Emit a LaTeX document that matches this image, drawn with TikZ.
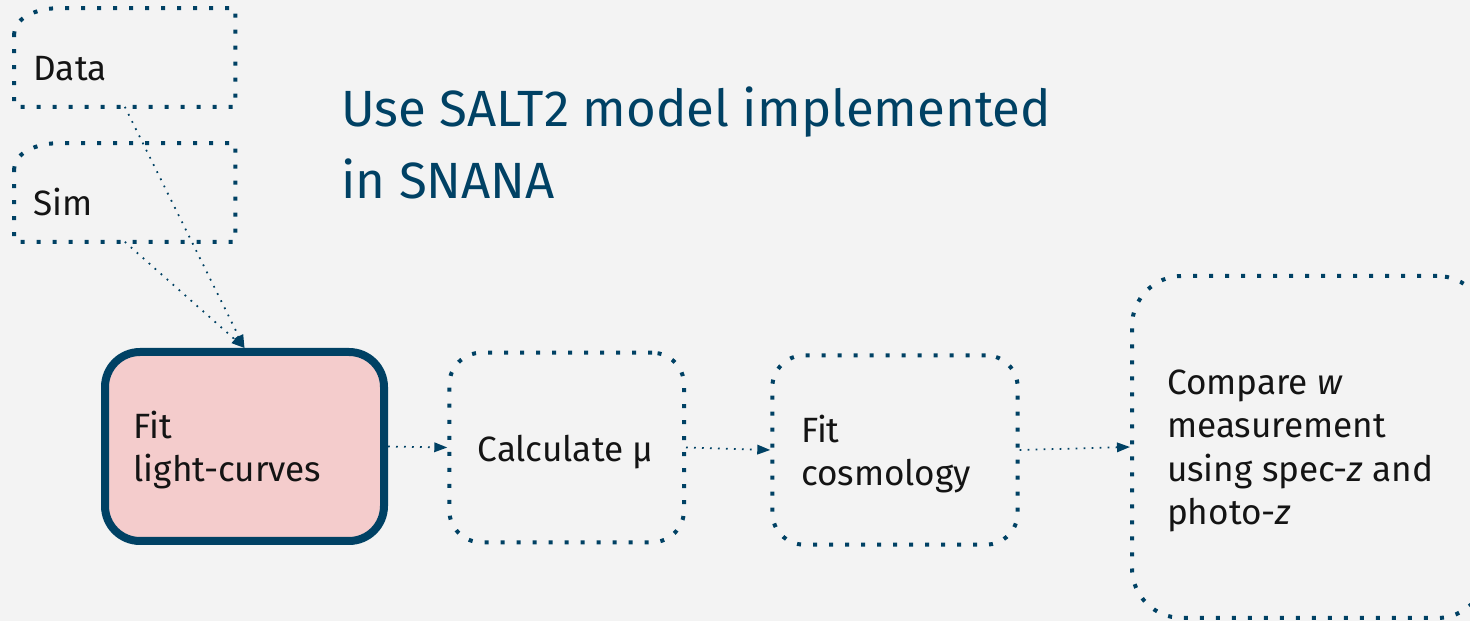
\documentclass[tikz,border=0pt]{standalone}
\usepackage{fontspec}
\setmainfont{Fira Sans}
\usetikzlibrary{arrows.meta,calc}
\definecolor{deepblue}{RGB}{0,65,100}
\definecolor{boxpink}{RGB}{244,204,204}
\definecolor{slidebg}{RGB}{243,243,243}

\begin{document}
\begin{tikzpicture}[
  srcbox/.style={minimum width=4.41cm, minimum height=1.96cm, inner sep=0pt},
  dotline/.style={draw=deepblue, line width=0.08cm, dash pattern=on 0.08cm off 0.24cm},
  dotbox/.style={dotline, rounded corners=0.64cm, inner sep=0pt},
  fitbox/.style={draw=deepblue, fill=boxpink, line width=0.16cm, rounded corners=0.7cm, inner sep=0pt},
  link/.style={draw=deepblue, line width=0.035cm, dash pattern=on 0.035cm off 0.125cm,
    -{Triangle[length=0.26cm,width=0.19cm]}},
  lbl/.style={anchor=base west, inner sep=0pt, align=left, text=black!92,
    font=\fontsize{20}{24.5}\selectfont}
]
\useasboundingbox (0,0) rectangle (29.4,-12.42);
\clip (0,0) rectangle (29.4,-12.42);
\fill[slidebg] (0,0) rectangle (29.4,-12.42);

% title
\node[anchor=base west, inner sep=0pt, align=left, text=deepblue,
  font=\fontsize{29}{40.6}\selectfont] (title) at (6.82,-3.966)
  {Use SALT2 model implemented\\in SNANA};

% input boxes
\node[srcbox] (data) at (2.497,-1.15) {};
\node[srcbox] (sim) at (2.497,-3.85) {};
\draw[dotline] ($(data.north west)+(0,-0.5)$) -- (data.south west) -- (data.south east)
  -- (data.north east) -- ($(data.north west)+(0.9,0)$)
  arc[start angle=90, end angle=180, x radius=0.9, y radius=0.5];
\draw[dotline] ($(sim.north west)+(0,-0.5)$) -- (sim.south west) -- (sim.south east)
  -- (sim.north east) -- ($(sim.north west)+(0.9,0)$)
  arc[start angle=90, end angle=180, x radius=0.9, y radius=0.5];
\node[lbl] (datatxt) at (0.666,-1.614) {Data};
\node[lbl] (simtxt) at (0.666,-4.32) {Sim};

% pipeline
\node[fitbox, minimum width=5.58cm, minimum height=3.78cm] (fit) at (4.89,-8.93) {};
\node[dotbox, minimum width=4.694cm, minimum height=3.792cm] (calc) at (11.333,-8.95) {};
\node[dotbox, minimum width=4.908cm, minimum height=3.788cm] (cosmo) at (17.9,-9.0) {};
\node[dotbox, rounded corners=1cm, minimum width=7.1cm, minimum height=6.84cm] (compare) at (26.19,-8.94) {};

\node[lbl] (fittxt) at (2.666,-9.64) {Fit\\light-curves};
\node[lbl] (calctxt) at (9.546,-9.234) {Calculate μ};
\node[lbl] (cosmotxt) at (16.014,-9.714) {Fit\\cosmology};
\node[lbl, font=\fontsize{20}{24.8}\selectfont] (comparetxt) at (23.334,-10.5)
  {Compare \textit{w}\\measurement\\using spec-\textit{z} and\\photo-\textit{z}};

% connectors
\draw[link] (data.south) -- (fit.north);
\draw[link] (sim.south) -- (fit.north);
\draw[link] (fit.east) -- (calc.west);
\draw[link] (calc.east) -- (cosmo.west);
\draw[link] (cosmo.east) -- (compare.west);

\end{tikzpicture}
\end{document}
